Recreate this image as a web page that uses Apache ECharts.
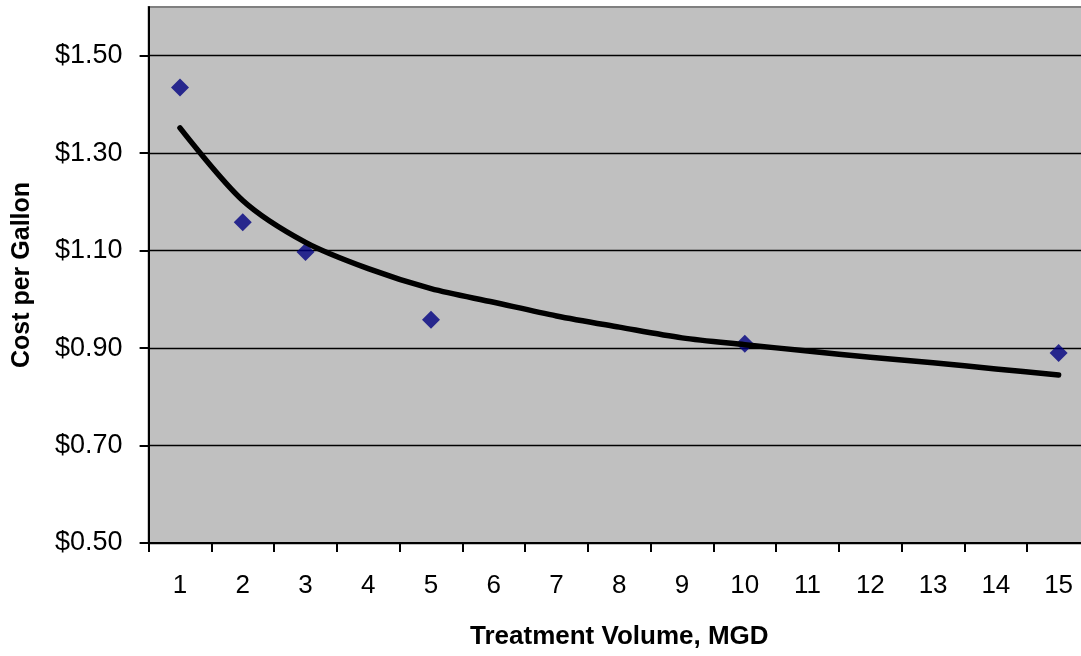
<!DOCTYPE html>
<html>
<head>
<meta charset="utf-8">
<script src="https://cdn.jsdelivr.net/npm/echarts@6/dist/echarts.min.js"></script>
<style>
html,body{margin:0;padding:0;background:#fff;overflow:hidden;width:1081px;height:656px;}
#chart{width:1090px;height:656px;}
</style>
</head>
<body>
<div id="chart"></div>
<script>
// Category labels on the x axis (treatment volume, MGD)
const categories = ['1','2','3','4','5','6','7','8','9','10','11','12','13','14','15'];
// Observed points
const pointVolumes = ['1','2','3','5','10','15'];
const pointCosts = [1.435, 1.158, 1.097, 0.958, 0.909, 0.890];
// Trend line values read at each category
const trendCosts = [1.352, 1.203, 1.117, 1.063, 1.022, 0.994, 0.966, 0.943, 0.921, 0.907, 0.894, 0.881, 0.870, 0.857, 0.845];
// Y tick values
const yTicks = [0.5, 0.7, 0.9, 1.1, 1.3, 1.5];

const FONT = '"Liberation Sans", Arial, sans-serif';
const chart = echarts.init(document.getElementById('chart'), null, {renderer: 'canvas'});

chart.setOption({
  backgroundColor: '#ffffff',
  animation: false,
  grid: {
    left: 148.6, right: 0, top: 7, bottom: 113,
    show: true, backgroundColor: '#c0c0c0', borderColor: '#808080', borderWidth: 2
  },
  xAxis: {
    type: 'category',
    data: categories,
    boundaryGap: true,
    name: 'Treatment Volume, MGD',
    nameLocation: 'middle',
    nameGap: 81,
    nameTextStyle: {fontFamily: FONT, fontSize: 26, fontWeight: 'bold', color: '#000'},
    axisLine: {lineStyle: {color: '#000', width: 2}},
    axisTick: {show: true, length: 9, lineStyle: {color: '#000', width: 2}},
    axisLabel: {fontFamily: FONT, fontSize: 26, color: '#000', margin: 30},
    splitLine: {show: false}
  },
  yAxis: {
    type: 'value',
    min: 0.5, max: 1.6, interval: 0.1,
    name: 'Cost per Gallon',
    nameLocation: 'middle',
    nameGap: 114,
    nameTextStyle: {fontFamily: FONT, fontSize: 25, fontWeight: 'bold', color: '#000'},
    axisLine: {show: true, lineStyle: {color: '#000', width: 2}},
    axisTick: {show: true, length: 9, customValues: yTicks, lineStyle: {color: '#000', width: 2}},
    axisLabel: {
      fontFamily: FONT, fontSize: 27, color: '#000', margin: 26,
      customValues: yTicks,
      formatter: v => '$' + v.toFixed(2)
    },
    splitLine: {show: true, lineStyle: {color: '#000', width: 1.3}}
  },
  series: [
    {
      type: 'scatter',
      data: pointVolumes.map((v, i) => [v, pointCosts[i]]),
      symbol: 'diamond',
      symbolSize: 18,
      itemStyle: {color: '#000080'},
      z: 3
    },
    {
      type: 'line',
      data: trendCosts,
      smooth: 0.3,
      showSymbol: false,
      symbol: 'none',
      lineStyle: {color: '#000', width: 5.5, cap: 'round', join: 'round'},
      z: 4
    }
  ]
});
</script>
</body>
</html>
